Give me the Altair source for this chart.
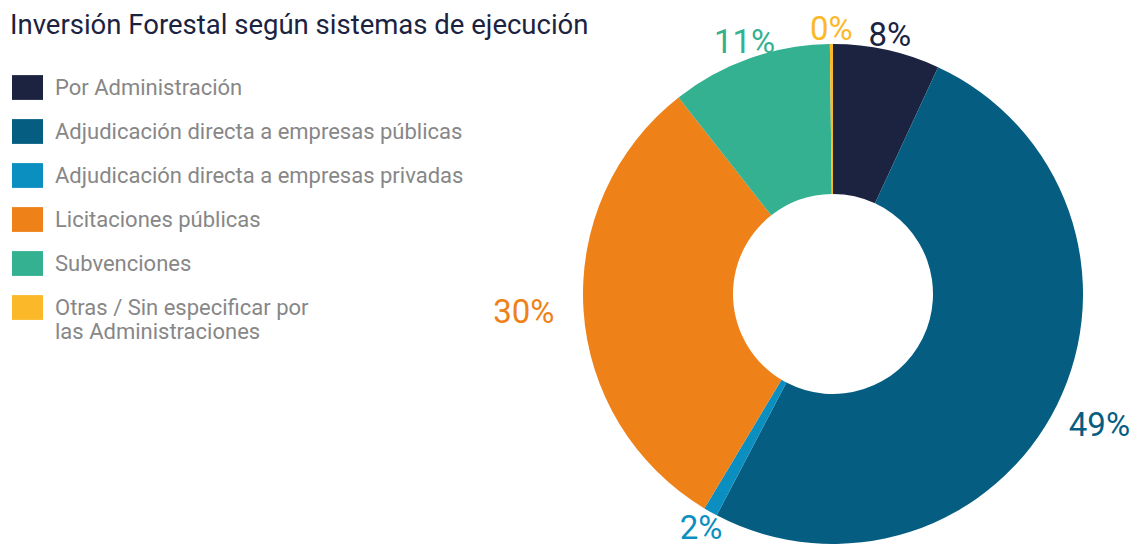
import altair as alt
import pandas as pd

categories = [
    "Por Administración",
    "Adjudicación directa a empresas públicas",
    "Adjudicación directa a empresas privadas",
    "Licitaciones públicas",
    "Subvenciones",
    "Otras / Sin especificar por las Administraciones",
]
shares = [6.9, 50.8, 0.9, 30.8, 10.4, 0.2]
pct_labels = ["8%", "49%", "2%", "30%", "11%", "0%"]
colors = ["#1b2340", "#055e82", "#0b8fc0", "#ef8119", "#33b190", "#fbb829"]

df = pd.DataFrame({
    "categoria": categories,
    "valor": shares,
    "etiqueta": pct_labels,
    "orden": list(range(len(categories))),
})

CX, CY = 825, 241
color_scale = alt.Scale(domain=categories, range=colors)

legend = alt.Legend(
    orient="none", legendX=4, legendY=19, title=None, padding=0,
    symbolType="M-1,-0.8H1V0.8H-1Z", symbolSize=961, symbolStrokeWidth=0,
    symbolOpacity=1,
    labelFont="Roboto", labelFontSize=22, labelColor="#878787",
    labelOffset=12, rowPadding=16, labelLimit=600,
    labelExpr="datum.label == 'Otras / Sin especificar por las Administraciones' ? ['Otras / Sin especificar por', 'las Administraciones'] : datum.label",
)

base = alt.Chart(df)

arcs = base.mark_arc(outerRadius=250, innerRadius=100, x=CX, y=CY, strokeWidth=0).encode(
    theta=alt.Theta("valor:Q", stack=True),
    color=alt.Color("categoria:N", scale=color_scale, sort=categories, legend=legend),
    order=alt.Order("orden:Q"),
)

labels = (
    base.transform_joinaggregate(total="sum(valor)")
    .transform_window(cum="sum(valor)", sort=[alt.SortField("orden")], frame=[None, 0])
    .transform_calculate(
        mid="2*PI*(datum.cum - datum.valor/2)/datum.total",
        r="264 + 46*pow(abs(sin(datum.mid)), 3)",
    )
    .mark_text(x=CX, y=CY, font="Roboto", fontSize=33, align="center", baseline="middle")
    .encode(
        theta=alt.Theta("mid:Q", scale=None, stack=None),
        radius=alt.Radius("r:Q", scale=None),
        text="etiqueta:N",
        color=alt.Color("categoria:N", scale=color_scale, legend=None),
    )
)

chart = (
    alt.layer(arcs, labels)
    .properties(
        width=1129,
        height=495,
        autosize="none",
        padding={"left": 0, "top": 45, "right": 0, "bottom": 0},
        title=alt.TitleParams(
            "Inversión Forestal según sistemas de ejecución",
            anchor="start", font="Roboto", fontSize=27.5, color="#1b2340",
            fontWeight="normal", dx=2, dy=29.5,
        ),
    )
    .configure_view(stroke=None)
)

chart.save("out.html", embed_options={"renderer": "svg", "actions": False})
